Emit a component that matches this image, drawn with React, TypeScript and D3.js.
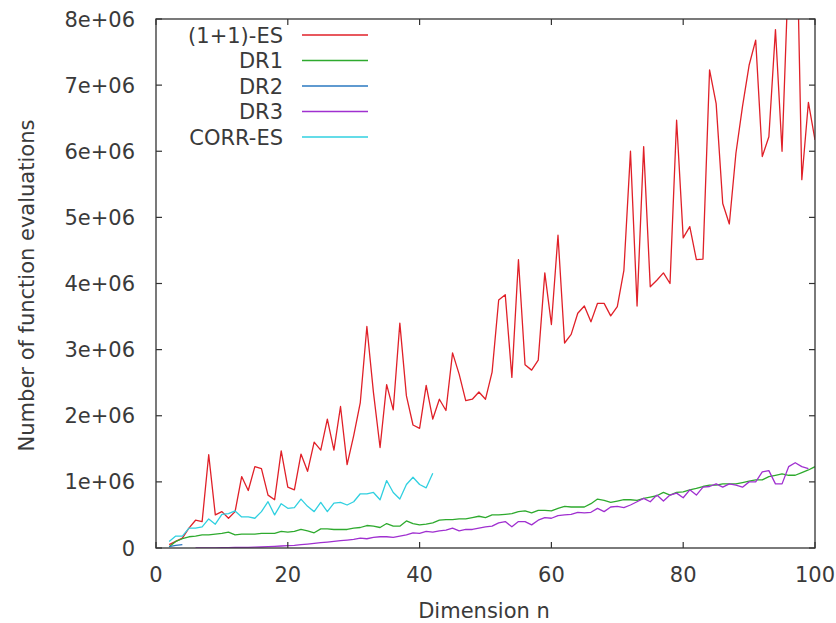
import React from "react";
import * as d3 from "d3";

const esN = d3.range(2, 101);
const esVals = [0.05, 0.1, 0.15, 0.3, 0.42, 0.4, 1.41, 0.5, 0.55, 0.45, 0.55, 1.08, 0.87, 1.23, 1.2, 0.8, 0.73, 1.47, 0.92, 0.88, 1.42, 1.16, 1.6, 1.48, 1.95, 1.48, 2.14, 1.26, 1.7, 2.2, 3.35, 2.35, 1.52, 2.47, 2.09, 3.4, 2.3, 1.86, 1.81, 2.46, 1.95, 2.25, 2.08, 2.95, 2.63, 2.23, 2.25, 2.36, 2.25, 2.66, 3.75, 3.83, 2.58, 4.36, 2.77, 2.69, 2.84, 4.16, 3.38, 4.73, 3.1, 3.23, 3.55, 3.66, 3.42, 3.7, 3.7, 3.51, 3.65, 4.2, 6.0, 3.66, 6.07, 3.95, 4.05, 4.16, 4.0, 6.47, 4.69, 4.86, 4.36, 4.37, 7.23, 6.72, 5.21, 4.9, 5.97, 6.68, 7.3, 7.68, 5.92, 6.22, 7.84, 6.0, 8.8, 10.5, 5.57, 6.74, 6.17];

const dr1N = d3.range(2, 101);
const dr1Vals = [0.02, 0.1, 0.14, 0.17, 0.18, 0.2, 0.2, 0.21, 0.22, 0.24, 0.2, 0.21, 0.21, 0.21, 0.22, 0.22, 0.22, 0.25, 0.24, 0.25, 0.28, 0.26, 0.23, 0.29, 0.29, 0.28, 0.28, 0.28, 0.3, 0.31, 0.34, 0.33, 0.31, 0.37, 0.33, 0.33, 0.41, 0.37, 0.35, 0.36, 0.38, 0.42, 0.43, 0.43, 0.44, 0.44, 0.46, 0.48, 0.46, 0.5, 0.5, 0.51, 0.52, 0.55, 0.56, 0.53, 0.57, 0.57, 0.56, 0.6, 0.63, 0.62, 0.62, 0.62, 0.67, 0.74, 0.72, 0.69, 0.71, 0.73, 0.73, 0.72, 0.75, 0.77, 0.79, 0.84, 0.8, 0.84, 0.85, 0.88, 0.9, 0.93, 0.95, 0.95, 0.97, 0.97, 0.97, 0.99, 1.01, 1.03, 1.03, 1.08, 1.1, 1.12, 1.1, 1.1, 1.14, 1.18, 1.23];

const dr2N = [2, 3, 4];
const dr2Vals = [0.02, 0.04, 0.05];

const dr3N = d3.range(6, 101);
const dr3Vals = [0.0, 0.0, 0.0, 0.0, 0.005, 0.005, 0.008, 0.01, 0.01, 0.012, 0.015, 0.02, 0.025, 0.03, 0.035, 0.04, 0.05, 0.06, 0.07, 0.08, 0.09, 0.1, 0.11, 0.12, 0.13, 0.15, 0.14, 0.16, 0.17, 0.17, 0.16, 0.18, 0.2, 0.23, 0.22, 0.25, 0.24, 0.26, 0.27, 0.3, 0.26, 0.28, 0.28, 0.3, 0.32, 0.33, 0.38, 0.4, 0.32, 0.4, 0.4, 0.35, 0.42, 0.46, 0.45, 0.49, 0.5, 0.51, 0.54, 0.53, 0.54, 0.6, 0.55, 0.62, 0.63, 0.61, 0.65, 0.7, 0.75, 0.7, 0.8, 0.71, 0.8, 0.83, 0.76, 0.88, 0.8, 0.92, 0.93, 0.97, 0.92, 0.97, 0.95, 0.92, 1.0, 1.0, 1.15, 1.17, 0.97, 0.97, 1.23, 1.29, 1.23, 1.2];

const corrN = d3.range(2, 43);
const corrVals = [0.1, 0.18, 0.18, 0.3, 0.3, 0.32, 0.44, 0.36, 0.51, 0.52, 0.56, 0.47, 0.47, 0.45, 0.55, 0.7, 0.5, 0.67, 0.6, 0.61, 0.74, 0.63, 0.55, 0.69, 0.55, 0.68, 0.69, 0.65, 0.7, 0.82, 0.82, 0.84, 0.73, 1.02, 0.84, 0.74, 0.96, 1.07, 0.96, 0.91, 1.13];

const seriesNames = ["(1+1)-ES", "DR1", "DR2", "DR3", "CORR-ES"];
const seriesColors = ["#e02028", "#2eaa2e", "#2a78c0", "#a030d0", "#30d0e0"];
const seriesData = [
  [esN, esVals],
  [dr1N, dr1Vals],
  [dr2N, dr2Vals],
  [dr3N, dr3Vals],
  [corrN, corrVals],
];

const xTicks = [0, 20, 40, 60, 80, 100];
const yTicks = [0, 1, 2, 3, 4, 5, 6, 7, 8];
const yTickLabels = ["0", "1e+06", "2e+06", "3e+06", "4e+06", "5e+06", "6e+06", "7e+06", "8e+06"];

export default function App() {
  const W = 836, H = 623;
  const L = 156, R = 815, T = 19, B = 548;
  const x = d3.scaleLinear().domain([0, 100]).range([L, R]);
  const y = d3.scaleLinear().domain([0, 8e6]).range([B, T]);
  const line = d3.line<[number, number]>().x((d) => x(d[0])).y((d) => y(d[1] * 1e6));
  const font = "DejaVu Sans, sans-serif";
  const fs = 21;
  const txt = "#3a3a3a";
  return (
    <svg width={W} height={H} style={{ position: "absolute", left: 0, top: 0, background: "#fff" }}>
      <defs>
        <clipPath id="plot">
          <rect x={L} y={T} width={R - L} height={B - T} />
        </clipPath>
      </defs>
      <rect x={0} y={0} width={W} height={H} fill="#fff" />
      <g clipPath="url(#plot)" fill="none" strokeWidth={1.3} strokeLinejoin="round">
        {seriesData.map(([ns, vs], i) => (
          <path key={i} d={line((ns as number[]).map((n, j) => [n, (vs as number[])[j]]))!} stroke={seriesColors[i]} />
        ))}
      </g>
      <rect x={L} y={T} width={R - L} height={B - T} fill="none" stroke="#333" strokeWidth={1.3} />
      {yTicks.map((v, i) => (
        <g key={"y" + i}>
          <line x1={L} x2={L + 6} y1={y(v * 1e6)} y2={y(v * 1e6)} stroke="#333" strokeWidth={1.2} />
          <line x1={R} x2={R - 6} y1={y(v * 1e6)} y2={y(v * 1e6)} stroke="#333" strokeWidth={1.2} />
          <text x={135} y={y(v * 1e6)} dy="0.36em" textAnchor="end" fontFamily={font} fontSize={fs} fill={txt}>
            {yTickLabels[i]}
          </text>
        </g>
      ))}
      {xTicks.map((v, i) => (
        <g key={"x" + i}>
          <line x1={x(v)} x2={x(v)} y1={B} y2={B - 6} stroke="#333" strokeWidth={1.2} />
          <line x1={x(v)} x2={x(v)} y1={T} y2={T + 6} stroke="#333" strokeWidth={1.2} />
          <text x={x(v)} y={574} dy="0.36em" textAnchor="middle" fontFamily={font} fontSize={fs} fill={txt}>
            {v}
          </text>
        </g>
      ))}
      <text x={484} y={610} dy="0.36em" textAnchor="middle" fontFamily={font} fontSize={fs} fill={txt}>
        Dimension n
      </text>
      <text transform={`translate(26,${(T + B) / 2 + 2}) rotate(-90)`} dy="0.36em" textAnchor="middle" fontFamily={font} fontSize={fs} fill={txt}>
        Number of function evaluations
      </text>
      {seriesNames.map((name, i) => {
        const ly = 35 + i * 25.5;
        return (
          <g key={"l" + i}>
            <text x={283} y={ly} dy="0.36em" textAnchor="end" fontFamily={font} fontSize={fs} fill={txt}>
              {name}
            </text>
            <line x1={302} x2={368} y1={ly} y2={ly} stroke={seriesColors[i]} strokeWidth={1.3} />
          </g>
        );
      })}
    </svg>
  );
}
